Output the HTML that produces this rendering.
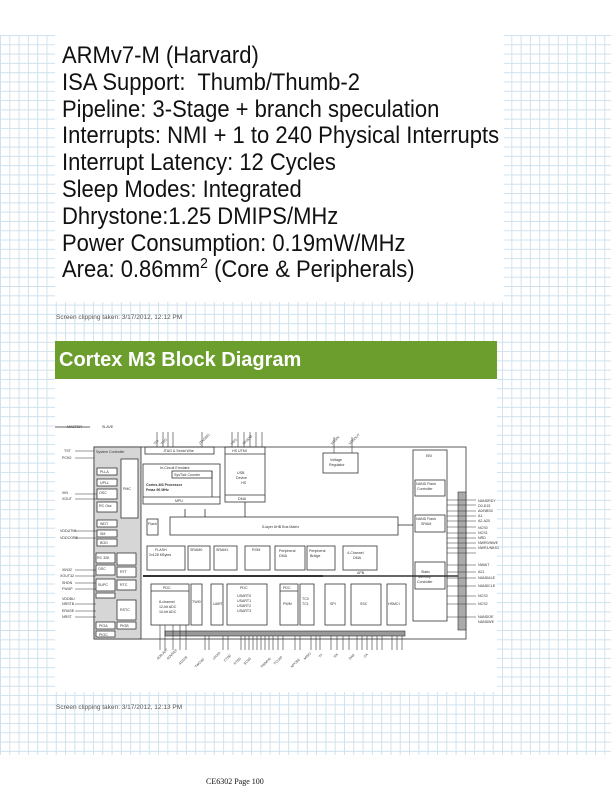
<!DOCTYPE html>
<html><head><meta charset="utf-8"><style>
html,body{margin:0;padding:0;background:#fff;}
body{width:611px;height:792px;position:relative;overflow:hidden;font-family:"Liberation Sans",Arial,sans-serif;}
.grid{position:absolute;left:0;top:35px;width:611px;height:720px;
background-image:linear-gradient(to right,#cfe2ef 1px,transparent 1px),linear-gradient(to bottom,#cfe2ef 1px,transparent 1px);
background-size:9.3px 9.3px;}
.box{position:absolute;background:#fff;}
.t{position:absolute;left:62px;font-size:22px;color:#111;white-space:nowrap;line-height:1;transform:scaleY(1.08);transform-origin:0 80%;}
.clip{position:absolute;left:56px;font-size:6.5px;color:#555;white-space:nowrap;}
.green{position:absolute;left:55px;top:341px;width:442px;height:38px;background:#6c9e2e;color:#fff;font-weight:bold;font-size:20px;line-height:38px;padding-left:4px;box-sizing:border-box;}
.foot{position:absolute;left:206px;top:777px;font-family:"Liberation Serif",serif;font-size:8px;color:#111;}
svg text{font-family:"Liberation Sans",Arial,sans-serif;}
</style></head><body>
<div class="grid"></div>
<div class="box" style="left:55px;top:35px;width:449px;height:267px"></div>
<div class="t" style="top:45px">ARMv7-M (Harvard)</div>
<div class="t" style="top:72px">ISA Support:&nbsp; Thumb/Thumb-2</div>
<div class="t" style="top:99px">Pipeline: 3-Stage + branch speculation</div>
<div class="t" style="top:125px">Interrupts: NMI + 1 to 240 Physical Interrupts</div>
<div class="t" style="top:152px">Interrupt Latency: 12 Cycles</div>
<div class="t" style="top:179px">Sleep Modes: Integrated</div>
<div class="t" style="top:206px">Dhrystone:1.25 DMIPS/MHz</div>
<div class="t" style="top:233px">Power Consumption: 0.19mW/MHz</div>
<div class="t" style="top:259px">Area: 0.86mm<sup style="font-size:14px;line-height:0">2</sup> (Core &amp; Peripherals)</div>
<div class="clip" style="top:314px">Screen clipping taken: 3/17/2012, 12:12 PM</div>
<div class="green">Cortex M3 Block Diagram</div>
<div class="box" style="left:55px;top:379px;width:442px;height:313px"></div>
<svg style="position:absolute;left:0;top:0" width="611" height="792" viewBox="0 0 611 792">
<g stroke="#333" stroke-width="0.8" fill="none">
<rect x="94" y="447" width="372" height="192"/>
<rect x="94" y="447" width="47" height="192" fill="#d6d6d6"/>
<rect x="121" y="459" width="17" height="59" fill="#fff"/>
<rect x="97" y="468" width="20" height="7" fill="#fff"/>
<rect x="97" y="479" width="20" height="7" fill="#fff"/>
<rect x="97" y="489" width="20" height="10" fill="#fff"/>
<rect x="97" y="502" width="20" height="10" fill="#fff"/>
<rect x="97" y="520" width="20" height="7" fill="#fff"/>
<rect x="97" y="530" width="20" height="7" fill="#fff"/>
<rect x="97" y="539" width="20" height="7" fill="#fff"/>
<rect x="96" y="553" width="19" height="10" fill="#fff"/>
<rect x="117" y="553" width="19" height="12" fill="#fff"/>
<rect x="96" y="565" width="19" height="10" fill="#fff"/>
<rect x="117" y="567" width="19" height="10" fill="#fff"/>
<rect x="96" y="579" width="19" height="12" fill="#fff"/>
<rect x="117" y="580" width="19" height="10" fill="#fff"/>
<rect x="96" y="593" width="19" height="5" fill="#fff"/>
<rect x="117" y="600" width="19" height="20" fill="#fff"/>
<rect x="96" y="622" width="19" height="7" fill="#fff"/>
<rect x="117" y="622" width="19" height="7" fill="#fff"/>
<rect x="96" y="631" width="19" height="6" fill="#fff"/>
<rect x="145" y="447" width="69" height="7"/>
<rect x="143" y="464" width="77" height="40"/>
<line x1="143" y1="497" x2="220" y2="497"/>
<rect x="172" y="471" width="40" height="7"/>
<line x1="212" y1="471" x2="212" y2="497"/>
<rect x="225" y="447" width="40" height="55"/>
<line x1="225" y1="454" x2="265" y2="454"/>
<line x1="225" y1="495" x2="265" y2="495"/>
<rect x="170" y="517" width="228" height="18"/>
<rect x="147" y="519" width="11" height="16"/>
<rect x="147" y="546" width="38" height="24"/>
<rect x="188" y="546" width="22" height="24"/>
<rect x="214" y="546" width="23" height="24"/>
<rect x="245" y="546" width="25" height="24"/>
<rect x="275" y="546" width="30" height="24"/>
<rect x="307" y="546" width="28" height="24"/>
<rect x="343" y="546" width="34" height="24"/>
<rect x="323" y="453" width="35" height="20"/>
<rect x="413" y="450" width="34" height="171"/>
<rect x="415" y="480" width="30" height="16"/>
<rect x="415" y="515" width="30" height="17"/>
<rect x="415" y="562" width="30" height="27"/>
<rect x="151" y="584" width="38" height="41"/>
<line x1="151" y1="591" x2="189" y2="591"/>
<rect x="191" y="584" width="11" height="41"/>
<rect x="211" y="584" width="12" height="41"/>
<rect x="227" y="584" width="40" height="41"/>
<rect x="280" y="584" width="18" height="41"/>
<line x1="280" y1="591" x2="298" y2="591"/>
<rect x="300" y="584" width="14" height="41"/>
<rect x="325" y="584" width="20" height="41"/>
<rect x="351" y="584" width="30" height="41"/>
<rect x="387" y="584" width="19" height="41"/>
<line x1="55" y1="427" x2="90" y2="427"/>
<line x1="185" y1="509" x2="185" y2="517"/><line x1="205" y1="509" x2="205" y2="517"/>
<line x1="245" y1="502" x2="245" y2="517"/>
<line x1="398" y1="525" x2="413" y2="525"/>
<line x1="250" y1="576" x2="466" y2="576" stroke-width="1.5"/>
</g>
<rect x="143" y="575" width="180" height="2" fill="#333"/>
<rect x="165" y="631" width="240" height="5" fill="#999" stroke="#333" stroke-width="0.6"/>
<rect x="458" y="492" width="8" height="138" fill="#aaa" stroke="#333" stroke-width="0.6"/>
<g stroke="#333" stroke-width="0.6">
<line x1="447" y1="500" x2="476" y2="500"/><line x1="447" y1="505" x2="476" y2="505"/><line x1="447" y1="511" x2="476" y2="511"/><line x1="447" y1="516" x2="476" y2="516"/><line x1="447" y1="521" x2="476" y2="521"/><line x1="447" y1="527" x2="476" y2="527"/><line x1="447" y1="533" x2="476" y2="533"/><line x1="447" y1="538" x2="476" y2="538"/><line x1="447" y1="543" x2="476" y2="543"/><line x1="447" y1="548" x2="476" y2="548"/><line x1="447" y1="553" x2="476" y2="553"/><line x1="447" y1="565" x2="476" y2="565"/><line x1="447" y1="572" x2="476" y2="572"/><line x1="447" y1="578" x2="476" y2="578"/><line x1="447" y1="586" x2="476" y2="586"/><line x1="447" y1="596" x2="476" y2="596"/><line x1="447" y1="604" x2="476" y2="604"/><line x1="447" y1="617" x2="476" y2="617"/>
<line x1="160" y1="625" x2="160" y2="650"/><line x1="165" y1="625" x2="165" y2="650"/><line x1="173" y1="625" x2="173" y2="650"/><line x1="180" y1="625" x2="180" y2="650"/><line x1="186" y1="625" x2="186" y2="650"/>
<line x1="205" y1="636" x2="205" y2="650"/><line x1="209" y1="636" x2="209" y2="650"/><line x1="223" y1="636" x2="223" y2="650"/><line x1="228" y1="636" x2="228" y2="650"/><line x1="241" y1="636" x2="241" y2="650"/><line x1="245" y1="636" x2="245" y2="650"/><line x1="249" y1="636" x2="249" y2="650"/><line x1="253" y1="636" x2="253" y2="650"/><line x1="257" y1="636" x2="257" y2="650"/><line x1="261" y1="636" x2="261" y2="650"/><line x1="265" y1="636" x2="265" y2="650"/><line x1="269" y1="636" x2="269" y2="650"/><line x1="273" y1="636" x2="273" y2="650"/><line x1="278" y1="636" x2="278" y2="650"/><line x1="283" y1="636" x2="283" y2="650"/><line x1="295" y1="636" x2="295" y2="650"/><line x1="300" y1="636" x2="300" y2="650"/><line x1="311" y1="636" x2="311" y2="650"/><line x1="316" y1="636" x2="316" y2="650"/><line x1="320" y1="636" x2="320" y2="650"/><line x1="331" y1="636" x2="331" y2="650"/><line x1="337" y1="636" x2="337" y2="650"/><line x1="343" y1="636" x2="343" y2="650"/><line x1="349" y1="636" x2="349" y2="650"/><line x1="357" y1="636" x2="357" y2="650"/><line x1="362" y1="636" x2="362" y2="650"/><line x1="367" y1="636" x2="367" y2="650"/><line x1="372" y1="636" x2="372" y2="650"/><line x1="377" y1="636" x2="377" y2="650"/><line x1="382" y1="636" x2="382" y2="650"/><line x1="392" y1="636" x2="392" y2="650"/><line x1="397" y1="636" x2="397" y2="650"/><line x1="402" y1="636" x2="402" y2="650"/>
<line x1="75" y1="451" x2="94" y2="451"/><line x1="75" y1="458" x2="94" y2="458"/><line x1="75" y1="494" x2="97" y2="494"/><line x1="75" y1="499" x2="97" y2="499"/><line x1="75" y1="531" x2="97" y2="531"/><line x1="75" y1="538" x2="97" y2="538"/><line x1="75" y1="570" x2="96" y2="570"/><line x1="75" y1="576" x2="96" y2="576"/><line x1="75" y1="583" x2="96" y2="583"/><line x1="75" y1="589" x2="96" y2="589"/><line x1="75" y1="604" x2="96" y2="604"/><line x1="75" y1="611" x2="96" y2="611"/><line x1="75" y1="617" x2="96" y2="617"/>
<line x1="157" y1="432" x2="157" y2="447"/><line x1="163" y1="432" x2="163" y2="447"/><line x1="168" y1="432" x2="168" y2="447"/><line x1="173" y1="432" x2="173" y2="447"/><line x1="202" y1="432" x2="202" y2="447"/><line x1="232" y1="432" x2="232" y2="447"/><line x1="238" y1="432" x2="238" y2="447"/><line x1="244" y1="432" x2="244" y2="447"/><line x1="250" y1="432" x2="250" y2="447"/><line x1="256" y1="432" x2="256" y2="447"/><line x1="262" y1="432" x2="262" y2="447"/><line x1="334" y1="437" x2="334" y2="453"/><line x1="352" y1="437" x2="352" y2="453"/>
</g>
<g font-size="3.6" fill="#333">
<text x="67" y="428">MASTER</text><text x="102" y="428">SLAVE</text>
<text x="96" y="453">System Controller</text><text x="123" y="490">PMC</text>
<text x="100" y="473">PLLA</text><text x="100" y="484">UPLL</text><text x="99" y="494">OSC</text><text x="99" y="507">RC Osc</text>
<text x="100" y="525">WDT</text><text x="100" y="535">SM</text><text x="100" y="544">BOD</text>
<text x="97" y="559">RC 32K</text><text x="98" y="570">OSC</text><text x="120" y="573">RTT</text><text x="98" y="586">SUPC</text><text x="120" y="586">RTC</text><text x="120" y="611">RSTC</text><text x="99" y="627">PIOA</text><text x="120" y="627">PIOB</text><text x="99" y="636">PIOC</text>
<text x="163" y="452">JTAG &amp; Serial Wire</text><text x="160" y="469">In-Circuit Emulator</text><text x="174" y="476">SysTick Counter</text>
<text x="146" y="486" font-weight="bold">Cortex-M3 Processor</text><text x="146" y="491" font-weight="bold">Fmax 96 MHz</text><text x="175" y="502">MPU</text>
<text x="232" y="452">HS UTMI</text><text x="237" y="474">USB</text><text x="236" y="479">Device</text><text x="241" y="484">HS</text><text x="238" y="500">DMA</text>
<text x="262" y="528">5-layer AHB Bus Matrix</text><text x="148" y="525">Flash</text>
<text x="155" y="551">FLASH</text><text x="149" y="556">2x128 KBytes</text><text x="190" y="551">SRAM0</text><text x="216" y="551">SRAM1</text><text x="252" y="551">ROM</text>
<text x="279" y="552">Peripheral</text><text x="279" y="557">DMA</text><text x="309" y="552">Peripheral</text><text x="310" y="557">Bridge</text><text x="347" y="554">4-Channel</text><text x="353" y="559">DMA</text>
<text x="330" y="461">Voltage</text><text x="329" y="466">Regulator</text><text x="426" y="457">EBI</text>
<text x="416" y="485">NAND Flash</text><text x="417" y="490">Controller</text><text x="416" y="520">NAND Flash</text><text x="421" y="525">SRAM</text>
<text x="421" y="573">Static</text><text x="418" y="578">Memory</text><text x="417" y="583">Controller</text>
<text x="163" y="589">PDC</text><text x="159" y="603">8-channel</text><text x="159" y="608">12-bit ADC</text><text x="159" y="613">10-bit ADC</text>
<text x="192" y="603">TWI0</text><text x="213" y="605">UART</text><text x="240" y="589">PDC</text><text x="237" y="597">USART0</text><text x="237" y="602">USART1</text><text x="237" y="607">USART2</text><text x="237" y="612">USART3</text>
<text x="283" y="589">PDC</text><text x="283" y="605">PWM</text><text x="302" y="600">TC0</text><text x="302" y="605">TC1</text><text x="330" y="605">SPI</text><text x="360" y="605">SSC</text><text x="388" y="605">HSMCI</text><text x="357" y="574">APB</text>
<text x="478" y="502">NANDRDY</text><text x="478" y="507">D0-D15</text><text x="478" y="512">A0/NBS0</text><text x="478" y="517">A1</text><text x="478" y="522">A2-A20</text><text x="478" y="529">NCS0</text><text x="478" y="534">NCS1</text><text x="478" y="539">NRD</text><text x="478" y="544">NWR0/NWE</text><text x="478" y="549">NWR1/NBS1</text><text x="478" y="566">NWAIT</text><text x="478" y="573">A21</text><text x="478" y="579">NANDALE</text><text x="478" y="587">NANDCLE</text><text x="478" y="597">NCS3</text><text x="478" y="605">NCS2</text><text x="478" y="618">NANDOE</text><text x="478" y="623">NANDWE</text>
<text x="64" y="452">TST</text><text x="62" y="459">PCK0</text><text x="62" y="494">XIN</text><text x="62" y="500">XOUT</text><text x="60" y="532">VDDUTMI</text><text x="60" y="539">VDDCORE</text><text x="62" y="571">XIN32</text><text x="60" y="577">XOUT32</text><text x="62" y="584">SHDN</text><text x="62" y="590">FWUP</text><text x="62" y="600">VDDBU</text><text x="62" y="605">NRSTB</text><text x="62" y="612">ERASE</text><text x="62" y="618">NRST</text>
</g>
<g font-size="3.4" fill="#444">
<text transform="translate(158,660) rotate(-45)">AD0-AD7</text><text transform="translate(168,660) rotate(-45)">ADVREF</text><text transform="translate(180,665) rotate(-45)">AD12B</text><text transform="translate(196,668) rotate(-45)">TWCK0</text><text transform="translate(214,660) rotate(-45)">URXD</text><text transform="translate(225,662) rotate(-45)">CTS0</text><text transform="translate(235,665) rotate(-45)">RTS0</text><text transform="translate(245,665) rotate(-45)">SCK0</text><text transform="translate(262,668) rotate(-45)">PWMH0</text><text transform="translate(275,665) rotate(-45)">TCLK0</text><text transform="translate(292,668) rotate(-45)">NPCS0</text><text transform="translate(305,660) rotate(-45)">MISO</text><text transform="translate(320,658) rotate(-45)">TF</text><text transform="translate(335,658) rotate(-45)">RK</text><text transform="translate(350,660) rotate(-45)">DA0</text><text transform="translate(365,658) rotate(-45)">CK</text>
<text transform="translate(155,445) rotate(-45)">TDI</text><text transform="translate(162,445) rotate(-45)">TDO</text><text transform="translate(200,445) rotate(-45)">JTAGSEL</text><text transform="translate(232,445) rotate(-45)">VBG</text><text transform="translate(244,445) rotate(-45)">DFSDM</text><text transform="translate(332,445) rotate(-45)">VDDIN</text><text transform="translate(350,445) rotate(-45)">VDDOUT</text>
</g>
</svg>
<div class="clip" style="top:704px">Screen clipping taken: 3/17/2012, 12:13 PM</div>
<div class="foot">CE6302 Page 100</div>
</body></html>
